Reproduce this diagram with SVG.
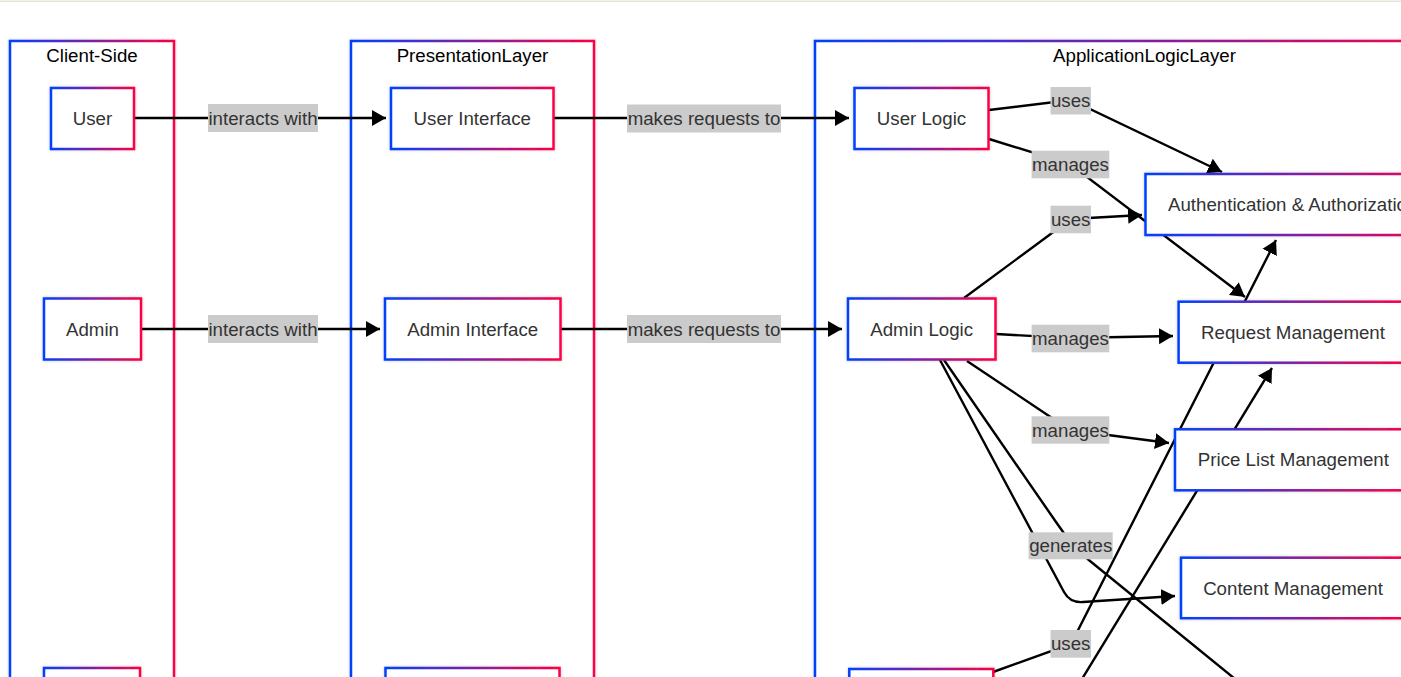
<svg xmlns="http://www.w3.org/2000/svg" width="1401" height="677" viewBox="0 0 1401 677">
<defs>
<linearGradient id="g" x1="0" y1="0" x2="1" y2="0">
<stop offset="0" stop-color="#0040ff"/>
<stop offset="1" stop-color="#ff0044"/>
</linearGradient>
<filter id="sh" x="-10%" y="-10%" width="120%" height="120%">
<feDropShadow dx="0" dy="0" stdDeviation="1.5" flood-color="#000" flood-opacity="0.22"/>
</filter>
<marker id="ah" markerUnits="userSpaceOnUse" markerWidth="16" markerHeight="18" refX="14" refY="8" orient="auto" viewBox="0 0 16 16">
<path d="M0,0 L14,8 L0,16 z" fill="#000"/>
</marker>
<style>
.cont{fill:#fff;stroke:url(#g);stroke-width:2.5;filter:url(#sh)}
.node rect{fill:#fff;stroke:url(#g);stroke-width:2.5;filter:url(#sh)}
.title{font-family:"Liberation Sans",Arial,sans-serif;font-size:18.7px;fill:#000;text-anchor:middle}
.nt{font-family:"Liberation Sans",Arial,sans-serif;font-size:18.7px;fill:#333;text-anchor:middle;dominant-baseline:central}
.edge{fill:none;stroke:#000;stroke-width:2.4}
.arr{marker-end:url(#ah)}
.lbl rect{fill:#cbcbcb}
.lbl text{font-family:"Liberation Sans",Arial,sans-serif;font-size:18.7px;fill:#333;text-anchor:middle;dominant-baseline:central}
</style>
</defs>
<rect x="0" y="0" width="1401" height="677" fill="#fff"/>
<rect x="0" y="0.5" width="1401" height="1.5" fill="#e4e4d6"/>

<g id="containers">
<g id="client-side"><rect class="cont" x="10" y="41" width="164" height="900"/><text class="title" x="92" y="61.5">Client-Side</text></g>
<g id="presentation-layer"><rect class="cont" x="351" y="41" width="243" height="900"/><text class="title" x="472.5" y="61.5">PresentationLayer</text></g>
<g id="application-logic-layer"><rect class="cont" x="815" y="41" width="659" height="900"/><text class="title" x="1144.5" y="61.5">ApplicationLogicLayer</text></g>
</g>

<g id="connectors">
<path class="edge arr" d="M134,118 L386,118"/>
<path class="edge arr" d="M141,329 L380,329"/>
<path class="edge arr" d="M553,118 L849,118"/>
<path class="edge arr" d="M560,329 L842,329"/>
<path class="edge arr" d="M989,110 L1071,100 L1222,172"/>
<path class="edge arr" d="M989,139 L1070,164 L1245,297"/>
<path class="edge arr" d="M964,298 L1071,219 L1142,215"/>
<path class="edge arr" d="M996,334 L1070,338 L1173,336"/>
<path class="edge arr" d="M967,361 L1070,430 L1169,443"/>
<path class="edge arr" d="M940,360 L1064,592 Q1070,603 1083,602 L1175,596"/>
<path class="edge" d="M944,360 L1056,522 C1066,537 1076,550 1090,561 L1240,683"/>
<path class="edge arr" d="M993,672 L1071,644 L1276,240"/>
<path class="edge arr" d="M1060,715 L1272,368"/>
<g class="lbl">
<rect x="208" y="104" width="110" height="28"/><text x="263" y="118">interacts with</text>
<rect x="208" y="315" width="110" height="28"/><text x="263" y="329">interacts with</text>
<rect x="627" y="104.5" width="154" height="28"/><text x="704" y="118.5">makes requests to</text>
<rect x="627" y="315" width="154" height="28"/><text x="704" y="329">makes requests to</text>
<rect x="1050.5" y="87" width="40.5" height="27.5"/><text x="1070.7" y="100.7">uses</text>
<rect x="1031.6" y="150.7" width="77.7" height="27.6"/><text x="1070.5" y="164.5">manages</text>
<rect x="1050.5" y="205.7" width="40.5" height="27.6"/><text x="1070.7" y="219.5">uses</text>
<rect x="1031.6" y="324.7" width="77.7" height="27.6"/><text x="1070.5" y="338.5">manages</text>
<rect x="1031.6" y="416.3" width="77.7" height="27.4"/><text x="1070.5" y="430">manages</text>
<rect x="1028.6" y="532.3" width="84.1" height="27"/><text x="1070.7" y="545.8">generates</text>
<rect x="1050.5" y="630" width="40.5" height="27.7"/><text x="1070.7" y="643.8">uses</text>
</g>
</g>

<g id="n-user" class="node"><rect x="51" y="88" width="83" height="61"/><text class="nt" x="92.5" y="118.5">User</text></g>
<g id="n-admin" class="node"><rect x="44" y="298.5" width="97" height="61"/><text class="nt" x="92.5" y="329">Admin</text></g>
<g id="n-client3" class="node"><rect x="44" y="668" width="96" height="61"/></g>
<g id="n-user-interface" class="node"><rect x="391" y="88" width="162.5" height="61"/><text class="nt" x="472.3" y="118.5">User Interface</text></g>
<g id="n-admin-interface" class="node"><rect x="385" y="298.5" width="175.5" height="61"/><text class="nt" x="472.7" y="329">Admin Interface</text></g>
<g id="n-pres3" class="node"><rect x="385.5" y="668" width="174" height="61"/></g>
<g id="n-user-logic" class="node"><rect x="854.5" y="88" width="134" height="61"/><text class="nt" x="921.5" y="118.5">User Logic</text></g>
<g id="n-admin-logic" class="node"><rect x="848" y="298.5" width="147.5" height="61"/><text class="nt" x="921.7" y="329">Admin Logic</text></g>
<g id="n-app3" class="node"><rect x="849.3" y="669" width="144" height="61"/></g>
<g id="n-auth" class="node"><rect x="1145.5" y="174" width="310" height="61"/><text class="nt" x="1168" y="204.5" style="text-anchor:start">Authentication &amp; Authorization</text></g>
<g id="n-request" class="node"><rect x="1178.6" y="301.7" width="229" height="61"/><text class="nt" x="1293" y="332.2">Request Management</text></g>
<g id="n-pricelist" class="node"><rect x="1175" y="429.3" width="237" height="61"/><text class="nt" x="1293.4" y="459.8">Price List Management</text></g>
<g id="n-content" class="node"><rect x="1181" y="557.7" width="224" height="60.5"/><text class="nt" x="1293" y="588">Content Management</text></g>
</svg>
